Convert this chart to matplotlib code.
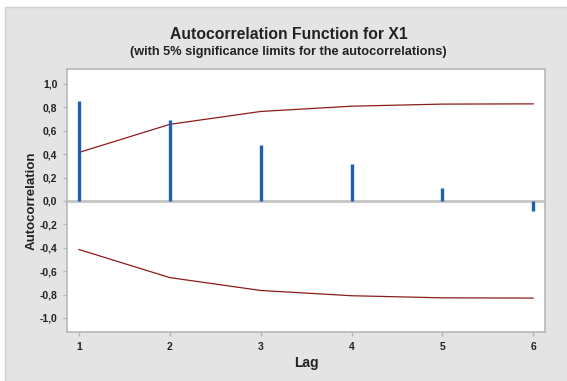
import matplotlib
matplotlib.use("Agg")
import matplotlib.pyplot as plt
from matplotlib.patches import Rectangle
import numpy as np

lags = [1, 2, 3, 4, 5, 6]
acf = [0.857, 0.69, 0.48, 0.316, 0.11, -0.083]
upper = [0.415, 0.655, 0.765, 0.81, 0.828, 0.83]
lower = [-u for u in upper]
yticks = [1.0, 0.8, 0.6, 0.4, 0.2, 0.0, -0.2, -0.4, -0.6, -0.8, -1.0]
ylabels = ["1,0", "0,8", "0,6", "0,4", "0,2", "0,0", "-0,2", "-0,4", "-0,6", "-0,8", "-1,0"]

plt.rcParams['font.family'] = ['Liberation Sans', 'DejaVu Sans']

W, H = 567, 381
fig = plt.figure(figsize=(W / 100, H / 100), dpi=100)
fig.patch.set_facecolor('white')
bg = Rectangle((5 / W, -0.01), 1, 1.01 - 7 / H, transform=fig.transFigure,
               facecolor='#e4e4e4', edgecolor='#cfcfcf', linewidth=1, zorder=-10)
fig.patches.append(bg)

ax = fig.add_axes([67 / W, 1 - 332 / H, (545 - 67) / W, (332 - 69) / H])
ax.set_facecolor('white')
for s in ax.spines.values():
    s.set_color('#b8b8b8')
    s.set_linewidth(1.2)

ax.axhline(0, color='#c8c8c8', linewidth=2.2, zorder=1)
ax.vlines(lags, 0, acf, color='#1e5fb0', linewidth=2.4, zorder=3)
ax.plot(lags, upper, color='#8e1b1b', linewidth=0.9, zorder=2)
ax.plot(lags, lower, color='#8e1b1b', linewidth=0.9, zorder=2)

ax.set_xlim(0.868, 6.13)
ax.set_ylim(-1.12, 1.128)
ax.set_xticks(lags)
ax.set_xticklabels([str(l) for l in lags])
ax.set_yticks(yticks)
ax.set_yticklabels(ylabels)
ax.tick_params(axis='both', labelsize=7.5, color='#b8b8b8', length=3, width=1, pad=4)
for lbl in ax.get_xticklabels() + ax.get_yticklabels():
    lbl.set_fontweight('bold')
    lbl.set_color('#222222')

ax.set_xlabel('Lag', fontsize=10, fontweight='bold', color='#222222', labelpad=3)
ax.set_ylabel('Autocorrelation', fontsize=9.5, fontweight='bold', color='#222222', labelpad=1.5)

fig.text(289 / W, 1 - 34.5 / H, 'Autocorrelation Function for X1', ha='center', va='center',
         fontsize=11.3, fontweight='bold', color='#222222')
fig.text(288 / W, 1 - 52.5 / H, '(with 5% significance limits for the autocorrelations)',
         ha='center', va='center', fontsize=9.2, fontweight='bold', color='#222222')

fig.savefig('out.png', dpi=100, facecolor=fig.get_facecolor())
